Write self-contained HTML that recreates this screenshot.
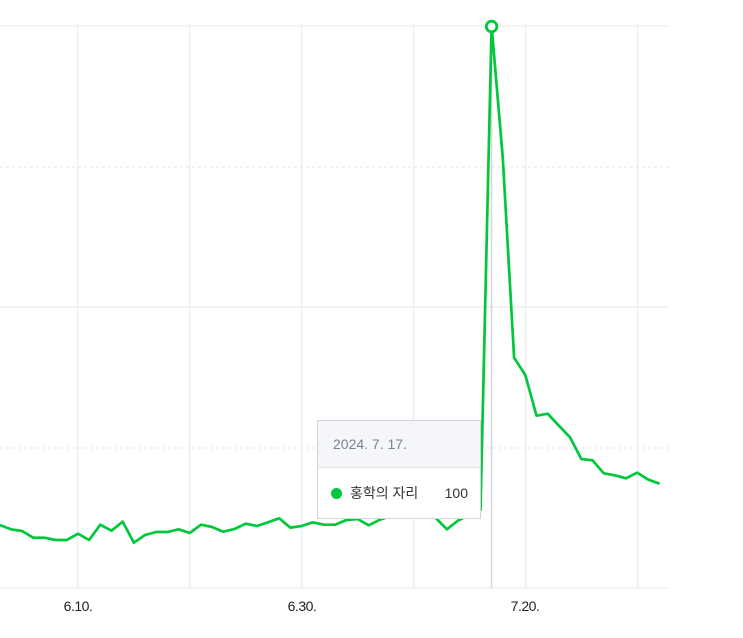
<!DOCTYPE html>
<html><head><meta charset="utf-8">
<style>
html,body{margin:0;padding:0;background:#fff;}
body{width:743px;height:638px;overflow:hidden;position:relative;font-family:"Liberation Sans","Noto Sans CJK KR",sans-serif;}
svg{position:absolute;left:0;top:0;}
.tt{position:absolute;left:317px;top:420px;width:162px;height:97px;border:1px solid #d2d5da;background:#fff;box-sizing:content-box;}
.tt .hd{height:46px;background:#f5f6fa;border-bottom:1px solid #e3e5e9;color:#7d828e;font-size:14px;line-height:46px;padding-left:15px;}
.tt .row{position:relative;height:50px;}
.tt .dot{position:absolute;left:13px;top:20px;width:11px;height:11px;border-radius:50%;background:#00c73c;}
.tt .nm{position:absolute;left:32px;top:16px;font-size:14px;color:#333;font-family:"Liberation Sans","Noto Sans CJK KR",sans-serif;line-height:18px;}
.tt .vl{position:absolute;right:12px;top:16px;font-size:14px;color:#333;line-height:18px;}
.xl{position:absolute;top:598px;font-size:14px;color:#222;letter-spacing:-0.5px;transform:translateX(-50%);}
</style></head>
<body>
<svg width="743" height="638" viewBox="0 0 743 638">
  <g stroke="#efefef" stroke-width="1.5">
    <line x1="77.5" y1="24" x2="77.5" y2="588"/>
    <line x1="189.5" y1="24" x2="189.5" y2="588"/>
    <line x1="301.5" y1="24" x2="301.5" y2="588"/>
    <line x1="413.5" y1="24" x2="413.5" y2="588"/>
    <line x1="525.5" y1="24" x2="525.5" y2="588"/>
    <line x1="637.5" y1="24" x2="637.5" y2="588"/>
    <line x1="0" y1="26" x2="669" y2="26"/>
    <line x1="0" y1="307" x2="669" y2="307"/>
    <line x1="0" y1="588" x2="669" y2="588"/>
  </g>
  <g stroke="#e6e6e6" stroke-width="1" stroke-dasharray="3,3">
    <line x1="0" y1="167" x2="669" y2="167"/>
    <line x1="0" y1="448" x2="669" y2="448"/>
  </g>
  <line x1="491.5" y1="28" x2="491.5" y2="588" stroke="#d3d7dd" stroke-width="1.5"/>
  <polyline fill="none" stroke="#00c73c" stroke-width="2.7" stroke-linejoin="round"
   points="-0.3,525 10.9,529.3 22.1,531 33.2,537.7 44.4,537.7 55.6,540 66.8,540 78,533.7 89.1,540 100.3,524.7 111.5,530.7 122.7,521.7 133.9,542.7 145,535 156.2,532 167.4,532 178.6,529.3 189.8,533 201,524.7 212.1,527 223.3,531.7 234.5,529 245.7,523.7 256.9,526 268,522.3 279.2,518.3 290.4,527.7 301.6,526 312.8,522.3 324,524.7 335.1,524.7 346.3,520 357.5,519 368.7,525.3 379.9,519.7 391,516 402.2,513 413.4,516 424.6,514 435.8,518 446.9,529.3 458.1,520.5 469.3,515 480.5,510 491.6,26 502.8,158 514.1,357.7 525.3,375 536.5,415.7 547.7,413.7 558.9,425.7 570,437.3 581.3,459 592.5,460.3 603.7,473.3 614.9,475.3 626,478.3 637.2,472.7 648.4,479.7 659.6,483.7"/>
  <circle cx="491.6" cy="26.5" r="5.3" fill="#fff" stroke="#00c73c" stroke-width="2.8"/>
</svg>
<div class="xl" style="left:78px;">6.10.</div>
<div class="xl" style="left:302px;">6.30.</div>
<div class="xl" style="left:525px;">7.20.</div>
<div class="tt">
  <div class="hd">2024. 7. 17.</div>
  <div class="row"><div class="dot"></div><div class="nm">홍학의 자리</div><div class="vl">100</div></div>
</div>
</body></html>
